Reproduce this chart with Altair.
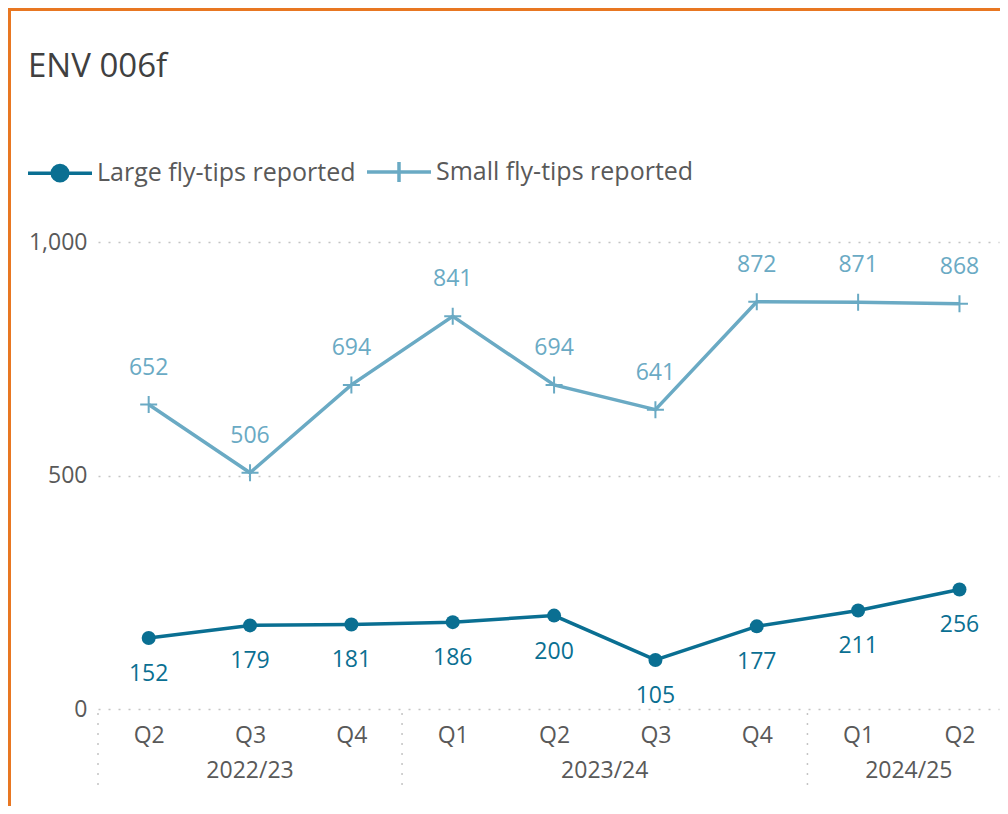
import json
import altair as alt
import pandas as pd

# ---------------- data ----------------
quarters = ["Q2", "Q3", "Q4", "Q1", "Q2", "Q3", "Q4", "Q1", "Q2"]
fin_years = ["2022/23", "2022/23", "2022/23",
             "2023/24", "2023/24", "2023/24", "2023/24",
             "2024/25", "2024/25"]
large_tips = [152, 179, 181, 186, 200, 105, 177, 211, 256]
small_tips = [652, 506, 694, 841, 694, 641, 872, 871, 868]
series_names = ["Large fly-tips reported", "Small fly-tips reported"]
y_ticks = [0, 500, 1000]
title_text = "ENV 006f"

# ---------------- styles ----------------
FONT = "Open Sans"
LARGE_C = "#0A6F92"
SMALL_C = "#6AAAC4"
TEXT_C = "#595959"
TITLE_C = "#404040"
GRID_C = "#C4C4C4"
BORDER_C = "#E87722"

W, H = 901, 467
PAD = {"left": 90, "top": 234, "right": 1, "bottom": 97}

CROSS = "M-1,0H1M0,-1V1"
LEG_LARGE = ("M-1,0H1M0.242,0A0.242,0.242 0 1,1 -0.242,0"
             "A0.242,0.242 0 1,1 0.242,0Z")
LEG_SMALL = "M-1,0H1M0,-0.31V0.31"

idx = list(range(len(quarters)))
rows = []
for i in idx:
    rows.append({"idx": i, "quarter": quarters[i], "year": fin_years[i],
                 "series": series_names[0], "value": large_tips[i]})
    rows.append({"idx": i, "quarter": quarters[i], "year": fin_years[i],
                 "series": series_names[1], "value": small_tips[i]})
df = pd.DataFrame(rows)
pts = pd.DataFrame({"idx": idx, "quarter": quarters, "year": fin_years})
dummy = pd.DataFrame({"k": [0]})

xs = alt.Scale(domain=[-0.5, 8.39], nice=False, zero=False)
ys = alt.Scale(domain=[0, 1000], nice=False)

x_axis = alt.Axis(values=idx, labelExpr=f"{json.dumps(quarters)}[datum.value]",
                  title=None, grid=False, ticks=False, domain=False,
                  labelFont=FONT, labelFontSize=23, labelColor=TEXT_C,
                  labelPadding=26, labelBaseline="middle", labelFlush=False,
                  labelOverlap=False)
y_axis = alt.Axis(values=y_ticks, labelExpr="format(datum.value, ',')",
                  title=None, grid=True,
                  gridDash=[2, 8], gridColor=GRID_C, gridWidth=1.5,
                  ticks=False, domain=False, labelFont=FONT, labelFontSize=23,
                  labelColor=TEXT_C, labelPadding=11)

X = lambda f: alt.X(f, scale=xs, axis=x_axis, title=None)
Y = lambda f: alt.Y(f, scale=ys, axis=y_axis, title=None)

# frame
border_top = alt.Chart(dummy).mark_rule(color=BORDER_C, strokeWidth=3).encode(
    x=alt.value(-PAD["left"]), x2=alt.value(W + PAD["right"]),
    y=alt.value(-PAD["top"] + 1.5))
border_left = alt.Chart(dummy).mark_rule(color=BORDER_C, strokeWidth=3).encode(
    x=alt.value(-PAD["left"] + 1.5),
    y=alt.value(-PAD["top"]), y2=alt.value(H + PAD["bottom"]))

# year separators and labels
seps = alt.Chart(pts).transform_aggregate(
    first="min(idx)", groupby=["year"]
).transform_calculate(sep="datum.first - 0.5").mark_rule(
    color=GRID_C, strokeWidth=1.5, strokeDash=[2, 8]
).encode(x=X("sep:Q"), y=alt.value(H + 4), y2=alt.value(H + 83))

years = alt.Chart(pts).transform_aggregate(
    mid="mean(idx)", groupby=["year"]
).mark_text(font=FONT, fontSize=23, color=TEXT_C, baseline="middle").encode(
    x=X("mid:Q"), y=alt.value(H + 62), text="year:N")

large_df = alt.Chart(df).transform_filter(alt.datum.series == series_names[0])
small_df = alt.Chart(df).transform_filter(alt.datum.series == series_names[1])

# lines
line_large = large_df.mark_line(strokeWidth=3.5, color=LARGE_C).encode(
    x=X("idx:Q"), y=Y("value:Q"))
line_small = small_df.mark_line(strokeWidth=3.5, color=SMALL_C).encode(
    x=X("idx:Q"), y=Y("value:Q"))

circles = large_df.mark_circle(size=196, color=LARGE_C, opacity=1).encode(
    x=X("idx:Q"), y=Y("value:Q"))
crosses = small_df.mark_point(shape=CROSS, size=289, filled=False,
                              color=SMALL_C, strokeWidth=2, opacity=1).encode(
    x=X("idx:Q"), y=Y("value:Q"))

lab_large = large_df.mark_text(font=FONT, fontSize=23, color=LARGE_C, dy=36,
                               baseline="middle").encode(
    x=X("idx:Q"), y=Y("value:Q"), text=alt.Text("value:Q"))
lab_small = small_df.mark_text(font=FONT, fontSize=23, color=SMALL_C, dy=-37,
                               baseline="middle").encode(
    x=X("idx:Q"), y=Y("value:Q"), text=alt.Text("value:Q"))

# legend
leg = alt.Legend(title=None, orient="none", legendX=-72, legendY=-104,
                 direction="horizontal", symbolSize=4096, symbolStrokeWidth=3.5,
                 symbolOpacity=1, labelFont=FONT, labelFontSize=25,
                 labelColor=TEXT_C, labelOffset=3, labelLimit=500,
                 columnPadding=4, padding=0)
legend_layer = alt.Chart(df).mark_point(size=0, filled=True).encode(
    x=X("idx:Q"), y=Y("value:Q"),
    shape=alt.Shape("series:N", scale=alt.Scale(domain=series_names,
                                               range=[LEG_LARGE, LEG_SMALL]),
                    legend=leg),
    stroke=alt.Stroke("series:N", scale=alt.Scale(domain=series_names,
                                                 range=[LARGE_C, SMALL_C]),
                      legend=leg),
    fill=alt.Fill("series:N", scale=alt.Scale(domain=series_names,
                                             range=[LARGE_C, "transparent"]),
                  legend=leg))

chart = alt.layer(
    border_top, border_left, seps, line_large, line_small, circles, crosses,
    lab_large, lab_small, years, legend_layer
).properties(
    width=W, height=H,
    title=alt.TitleParams(title_text, anchor="start", frame="group",
                          font=FONT, fontSize=33, fontWeight="normal",
                          color=TITLE_C, dx=-70, offset=0, dy=103,
                          baseline="alphabetic"),
    autosize=alt.AutoSizeParams(type="none"),
    padding=PAD,
).configure(font=FONT, background="white").configure_view(stroke=None)

chart.save("out.html", embed_options={"renderer": "svg", "actions": False})
